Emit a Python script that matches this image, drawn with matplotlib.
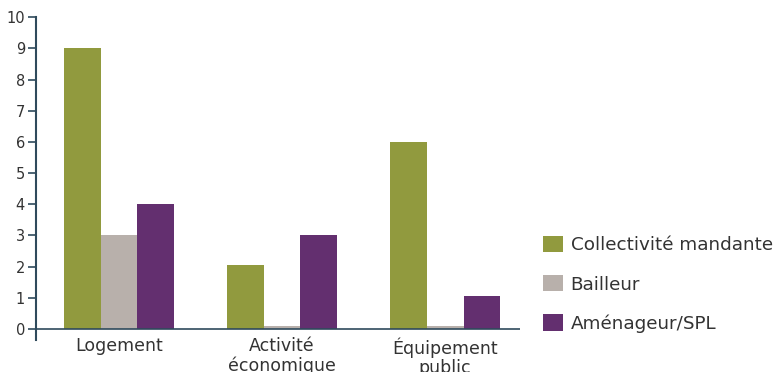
import numpy as np
import matplotlib.pyplot as plt

categories = ['Logement', 'Activité\néconomique', 'Équipement\npublic']
collectivite = [9, 2.05, 6]
bailleur = [3, 0.1, 0.1]
amenageur = [4, 3, 1.05]
series_names = ['Collectivité mandante', 'Bailleur', 'Aménageur/SPL']
colors = ['#919a3e', '#b8b0ab', '#632f6f']
axis_col = '#2f4a5c'
text_col = '#333333'

fig = plt.figure(figsize=(7.74, 3.72), dpi=100)
ax = fig.add_axes([0.0465, 0.086, 0.6255, 0.868])

x = np.arange(len(categories))
w = 0.226
for i, (vals, name, c) in enumerate(zip([collectivite, bailleur, amenageur], series_names, colors)):
    ax.bar(x + (i - 1) * w, vals, width=w, color=c, label=name)

ax.set_xlim(-0.509, 2.46)
ax.set_ylim(-0.35, 10)
ax.set_yticks(range(0, 11))
ax.axhline(0, color=axis_col, lw=1.2, xmin=0, xmax=1)
for s in ['top', 'right', 'bottom']:
    ax.spines[s].set_visible(False)
ax.spines['left'].set_color(axis_col)
ax.spines['left'].set_linewidth(1.5)
ax.tick_params(axis='y', colors=axis_col, length=6, width=1.2, labelcolor=text_col, labelsize=10.5, pad=2)
ax.tick_params(axis='x', length=0, labelcolor=text_col, labelsize=12.5, pad=-2)
ax.set_xticks(x)
ax.set_xticklabels(categories, linespacing=1.1, va='top')

ax.legend(loc='upper left', bbox_to_anchor=(0.7016, 0.366), bbox_transform=fig.transFigure,
          frameon=False, fontsize=13.2, handlelength=1.1, handleheight=1.0,
          labelspacing=1.13, handletextpad=0.4, borderaxespad=0, borderpad=0,
          labelcolor=text_col)

fig.savefig('out.png', dpi=100)
